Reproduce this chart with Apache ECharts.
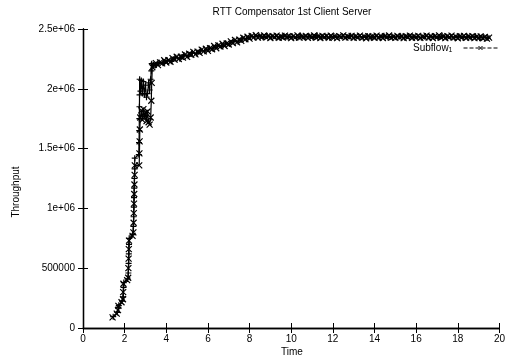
<!DOCTYPE html>
<html>
<head>
<meta charset="utf-8">
<script src="https://cdn.jsdelivr.net/npm/echarts@6/dist/echarts.min.js"></script>
<style>html,body{margin:0;padding:0;background:#fff}#c{width:508px;height:362px}</style>
</head>
<body>
<div id="c"></div>
<script>
var chartTitle = 'RTT Compensator 1st Client Server';
var xName = 'Time';
var yName = 'Throughput';
var legendName = 'Subflow1';
var xTicks = [0, 2, 4, 6, 8, 10, 12, 14, 16, 18, 20];
var yTickLabels = ['0', '500000', '1e+06', '1.5e+06', '2e+06', '2.5e+06'];

var timeA = [1.42,1.62,1.68,1.70,1.85,1.92,1.93,1.94,2.12,2.17,2.18,2.19,2.20,2.21,2.38,2.42,2.43,2.44,2.45,2.46,2.47,2.48,2.49,2.70,2.71,2.72,2.73,2.75,2.80,2.85,2.90,2.95,3.00,3.05,3.10,3.15,3.20,3.25,3.28,3.30,3.33,3.40,
3.5,3.6,3.7,3.8,3.9,4.0,4.1,4.2,4.3,4.4,4.5,4.6,4.7,4.8,4.9,5.0,5.1,5.2,5.3,5.4,5.5,5.6,5.7,5.8,5.9,6.0,6.1,6.2,6.3,6.4,6.5,6.6,6.7,6.8,6.9,7.0,7.1,7.2,7.3,7.4,7.5,7.6,7.7,7.8,7.9,8.0,8.1,8.2,8.3,
8.4,8.5,8.6,8.7,8.8,8.9,9.0,9.1,9.2,9.3,9.4,9.5,9.6,9.7,9.8,9.9,10.0,10.1,10.2,10.3,10.4,10.5,10.6,10.7,10.8,10.9,11.0,11.1,11.2,11.3,11.4,11.5,11.6,11.7,11.8,11.9,12.0,12.1,12.2,12.3,12.4,12.5,12.6,12.7,12.8,12.9,13.0,13.1,13.2,13.3,13.4,13.5,13.6,13.7,13.8,13.9,14.0,14.1,14.2,14.3,14.4,14.5,14.6,14.7,14.8,14.9,15.0,15.1,15.2,15.3,15.4,15.5,15.6,15.7,15.8,15.9,16.0,16.1,16.2,16.3,16.4,16.5,16.6,16.7,16.8,16.9,17.0,17.1,17.2,17.3,17.4,17.5,17.6,17.7,17.8,17.9,18.0,18.1,18.2,18.3,18.4,18.5,18.6,18.7,18.8,18.9,19.0,19.1,19.2,19.3,19.4,19.5];
var throughputA = [89000,120000,150000,185000,215000,240000,300000,370000,400000,420000,500000,580000,660000,730000,770000,800000,880000,960000,1040000,1120000,1200000,1280000,1360000,1360000,1460000,1560000,1660000,1760000,1820000,1740000,1830000,1760000,1800000,1730000,1810000,1720000,1700000,1760000,1900000,2050000,2180000,2200000,
2.215e6,2.198e6,2.221e6,2.212e6,2.239e6,2.220e6,2.239e6,2.226e6,2.256e6,2.244e6,2.268e6,2.249e6,2.268e6,2.261e6,2.287e6,2.267e6,2.293e6,2.285e6,2.309e6,2.288e6,2.311e6,2.300e6,2.327e6,2.313e6,2.335e6,2.317e6,2.340e6,2.331e6,2.358e6,2.339e6,2.363e6,2.354e6,2.377e6,2.358e6,2.379e6,2.370e6,2.396e6,2.382e6,2.408e6,2.388e6,2.411e6,2.401e6,2.427e6,2.414e6,2.435e6,2.419e6,2.442e6,2.430e6,2.449e6,
2.428e6,2.441e6,2.432e6,2.446e6,2.430e6,2.439e6,2.425e6,2.440e6,2.431e6,2.444e6,2.427e6,2.437e6,2.429e6,2.445e6,2.433e6,2.438e6,2.424e6,2.441e6,2.430e6,2.447e6,2.428e6,2.436e6,2.431e6,2.443e6,2.426e6,2.439e6,2.432e6,2.446e6,2.429e6,2.437e6,2.425e6,2.442e6,2.433e6,2.440e6,2.427e6,2.444e6,2.430e6,2.436e6,2.424e6,2.441e6,2.432e6,2.447e6,2.428e6,2.438e6,2.431e6,2.443e6,2.426e6,2.439e6,2.430e6,2.445e6,2.428e6,2.436e6,2.423e6,2.440e6,2.431e6,2.437e6,2.427e6,2.444e6,2.429e6,2.438e6,2.425e6,2.441e6,2.432e6,2.446e6,2.428e6,2.435e6,2.426e6,2.442e6,2.430e6,2.437e6,2.424e6,2.440e6,2.431e6,2.445e6,2.427e6,2.438e6,2.429e6,2.443e6,2.426e6,2.436e6,2.430e6,2.444e6,2.428e6,2.439e6,2.425e6,2.441e6,2.432e6,2.447e6,2.429e6,2.437e6,2.424e6,2.440e6,2.431e6,2.445e6,2.428e6,2.436e6,2.423e6,2.439e6,2.430e6,2.442e6,2.426e6,2.437e6,2.429e6,2.441e6,2.424e6,2.435e6,2.427e6,2.438e6,2.422e6,2.433e6,2.420e6,2.428e6];

var timeB = [1.45,1.65,1.70,1.72,1.88,1.93,1.95,1.96,2.14,2.18,2.19,2.20,2.21,2.22,2.38,2.42,2.43,2.44,2.45,2.46,2.47,2.48,2.485,2.68,2.69,2.70,2.705,2.71,2.715,2.72,2.76,2.80,2.85,2.90,2.95,3.00,3.05,3.10,3.15,3.20,3.25,3.28,3.30,3.38,
3.45,3.65,3.85,4.05,4.25,4.45,4.65,4.85,5.05,5.25,5.45,5.65,5.85,6.05,6.25,6.45,6.65,6.85,7.05,7.25,7.45,7.65,7.85,8.05,8.25,8.45,8.65,8.85,9.05,9.25,9.45,9.65,9.85,10.05,10.25,10.45,10.65,10.85,11.05,11.25,11.45,11.65,11.85,12.05,12.25,12.45,12.65,12.85,13.05,13.25,13.45,13.65,13.85,14.05,14.25,14.45,14.65,14.85,15.05,15.25,15.45,15.65,15.85,16.05,16.25,16.45,16.65,16.85,17.05,17.25,17.45,17.65,17.85,18.05,18.25,18.45,18.65,18.85,19.05,19.25,19.45];
var throughputB = [95000,130000,175000,190000,225000,260000,340000,380000,410000,460000,540000,620000,700000,750000,780000,850000,930000,1010000,1090000,1170000,1250000,1330000,1420000,1450000,1550000,1650000,1750000,1850000,1950000,2080000,1980000,2070000,1960000,2060000,1950000,2030000,1930000,1960000,2050000,1990000,2080000,2150000,2210000,2200000,
2.196e6,2.219e6,2.213e6,2.237e6,2.230e6,2.262e6,2.252e6,2.283e6,2.273e6,2.302e6,2.296e6,2.322e6,2.314e6,2.341e6,2.335e6,2.362e6,2.355e6,2.381e6,2.375e6,2.402e6,2.393e6,2.421e6,2.415e6,2.440e6,2.434e6,2.444e6,2.430e6,2.441e6,2.433e6,2.439e6,2.428e6,2.443e6,2.431e6,2.437e6,2.426e6,2.442e6,2.434e6,2.440e6,2.429e6,2.445e6,2.432e6,2.436e6,2.427e6,2.441e6,2.433e6,2.439e6,2.430e6,2.444e6,2.428e6,2.437e6,2.432e6,2.441e6,2.426e6,2.438e6,2.431e6,2.443e6,2.429e6,2.436e6,2.433e6,2.440e6,2.427e6,2.442e6,2.430e6,2.437e6,2.428e6,2.441e6,2.433e6,2.438e6,2.426e6,2.443e6,2.431e6,2.436e6,2.429e6,2.440e6,2.427e6,2.435e6,2.432e6,2.439e6,2.425e6,2.434e6,2.424e6];

function pairs(t, v) { return t.map(function (x, i) { return [x, v[i]]; }); }

var FONT = '"Liberation Sans", Arial, sans-serif';
var xSym = 'path://M0,0L10,10M10,0L0,10';
var plusSym = 'path://M5,0L5,10M0,5L10,5';
var GRID = {left: 83, right: 6, top: 29, bottom: 34};

var chart = echarts.init(document.getElementById('c'), null, {renderer: 'canvas'});
var axisCommon = {
  type: 'value',
  axisLine: {show: true, lineStyle: {color: '#000', width: 1.3}},
  axisTick: {show: true, inside: true, length: 5, lineStyle: {color: '#000'}},
  splitLine: {show: false}
};
chart.setOption({
  animation: false,
  backgroundColor: '#fff',
  grid: GRID,
  xAxis: [
    Object.assign({}, axisCommon, {min: xTicks[0], max: xTicks[xTicks.length - 1], interval: 2, position: 'bottom',
      axisLabel: {color: '#000', fontSize: 10, fontFamily: FONT, margin: 6}}),
    Object.assign({}, axisCommon, {min: xTicks[0], max: xTicks[xTicks.length - 1], interval: 2, position: 'top',
      axisLabel: {show: false}})
  ],
  yAxis: [
    Object.assign({}, axisCommon, {min: 0, max: 2500000, interval: 500000, position: 'left',
      axisLabel: {color: '#000', fontSize: 10, fontFamily: FONT, margin: 8,
        formatter: function (v) { return yTickLabels[Math.round(v / 500000)]; }}}),
    Object.assign({}, axisCommon, {min: 0, max: 2500000, interval: 500000, position: 'right',
      axisLabel: {show: false}})
  ],
  legend: {
    data: [legendName],
    right: 5, top: 37,
    align: 'right',
    itemWidth: 34, itemHeight: 5, itemGap: 0,
    lineStyle: {type: 'dashed', width: 1, color: '#000'},
    itemStyle: {borderWidth: 1},
    formatter: function () { return '{a|Subflow}{b|1}'; },
    textStyle: {
      color: '#000', fontFamily: FONT,
      rich: {
        a: {fontSize: 10, fontFamily: FONT, color: '#000', lineHeight: 12},
        b: {fontSize: 7, fontFamily: FONT, color: '#000', lineHeight: 12, verticalAlign: 'bottom', padding: [5, 6, 0, 0]}
      }
    }
  },
  graphic: [
    {type: 'text', x: 292, y: 12, style: {text: chartTitle, fill: '#000', font: '10px ' + FONT, align: 'center', verticalAlign: 'middle'}},
    {type: 'text', x: 292, y: 352, style: {text: xName, fill: '#000', font: '10px ' + FONT, align: 'center', verticalAlign: 'middle'}},
    {type: 'text', x: 16, y: 192, rotation: Math.PI / 2, style: {text: yName, fill: '#000', font: '10px ' + FONT, align: 'center', verticalAlign: 'middle'}}
  ],
  series: [
    {
      name: legendName, type: 'line', data: pairs(timeA, throughputA),
      symbol: xSym, symbolSize: 6, showAllSymbol: true,
      lineStyle: {color: '#000', width: 1.2},
      itemStyle: {color: '#000', borderColor: '#000', borderWidth: 1.2},
      emphasis: {disabled: true}
    },
    {
      name: 'sub2', type: 'line', data: pairs(timeB, throughputB),
      symbol: plusSym, symbolSize: 6, showAllSymbol: true,
      lineStyle: {color: '#000', width: 1.2},
      itemStyle: {color: '#000', borderColor: '#000', borderWidth: 1.2},
      emphasis: {disabled: true}
    }
  ]
});
</script>
</body>
</html>
